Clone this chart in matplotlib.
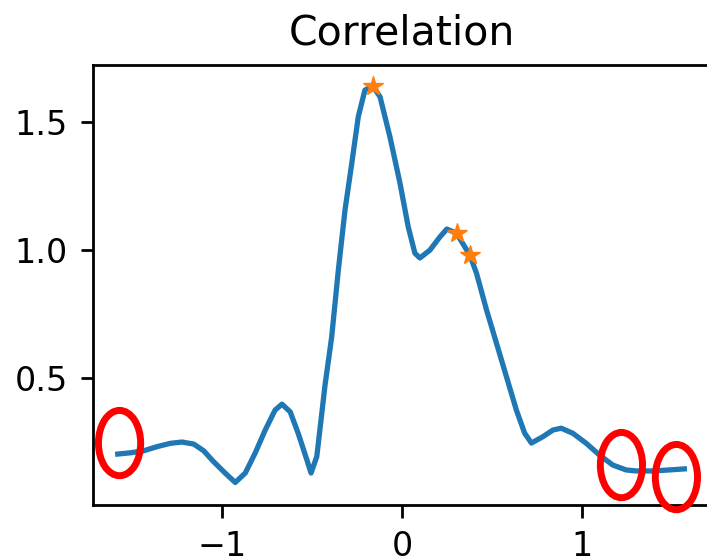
import matplotlib
matplotlib.use("Agg")
import matplotlib.pyplot as plt
from matplotlib.patches import Ellipse

# values
xs = [-1.582, -1.511, -1.437, -1.363, -1.289, -1.224, -1.159, -1.104, -1.048,
      -0.983, -0.928, -0.872, -0.817, -0.761, -0.706, -0.668, -0.622, -0.578,
      -0.529, -0.506, -0.474, -0.446, -0.428, -0.391, -0.354, -0.317, -0.279,
      -0.243, -0.206, -0.163, -0.122, -0.067, -0.011, 0.035, 0.072, 0.100,
      0.156, 0.211, 0.250, 0.304, 0.378, 0.415, 0.471, 0.526, 0.582, 0.637,
      0.683, 0.721, 0.785, 0.841, 0.887, 0.952, 1.026, 1.100, 1.174, 1.248,
      1.304, 1.396, 1.489, 1.572]
ys = [0.203, 0.208, 0.216, 0.232, 0.245, 0.250, 0.242, 0.216, 0.173,
      0.128, 0.092, 0.129, 0.207, 0.297, 0.375, 0.398, 0.368, 0.285,
      0.180, 0.129, 0.193, 0.363, 0.473, 0.661, 0.922, 1.156, 1.340,
      1.521, 1.625, 1.641, 1.599, 1.443, 1.262, 1.091, 0.988, 0.969,
      1.000, 1.051, 1.082, 1.066, 0.980, 0.910, 0.766, 0.637, 0.505, 0.375,
      0.285, 0.246, 0.271, 0.297, 0.304, 0.284, 0.245, 0.199, 0.160, 0.141,
      0.137, 0.137, 0.141, 0.145]

# starred peaks
peak_x = [-0.163, 0.304, 0.378]
peak_y = [1.641, 1.066, 0.980]

# red circles drawn on top of the chart
circle_x = [-1.572, 1.222, 1.528]
circle_y = [0.246, 0.160, 0.113]

fig = plt.figure(figsize=(7.07, 5.59), dpi=100)
ax = fig.add_axes([0.1315, 0.0966, 0.874, 0.7871])

ax.plot(xs, ys, color="#1f77b4", linewidth=3.8)
ax.plot(peak_x, peak_y, "*", color="#ff7f0e", markersize=15)

for cx, cy in zip(circle_x, circle_y):
    ax.add_patch(Ellipse((cx, cy), 0.235, 0.255, fill=False, edgecolor="red",
                         linewidth=5, clip_on=False, zorder=5))

ax.set_xlim(-1.72, 1.72)
ax.set_ylim(0.004, 1.723)
ax.set_xticks([-1, 0, 1])
ax.set_yticks([0.5, 1.0, 1.5])
ax.tick_params(labelsize=24, length=9, width=2, pad=9)
for s in ax.spines.values():
    s.set_linewidth(2)
ax.set_title("Correlation", fontsize=29.5, pad=15)

fig.savefig("out.png", dpi=100)
